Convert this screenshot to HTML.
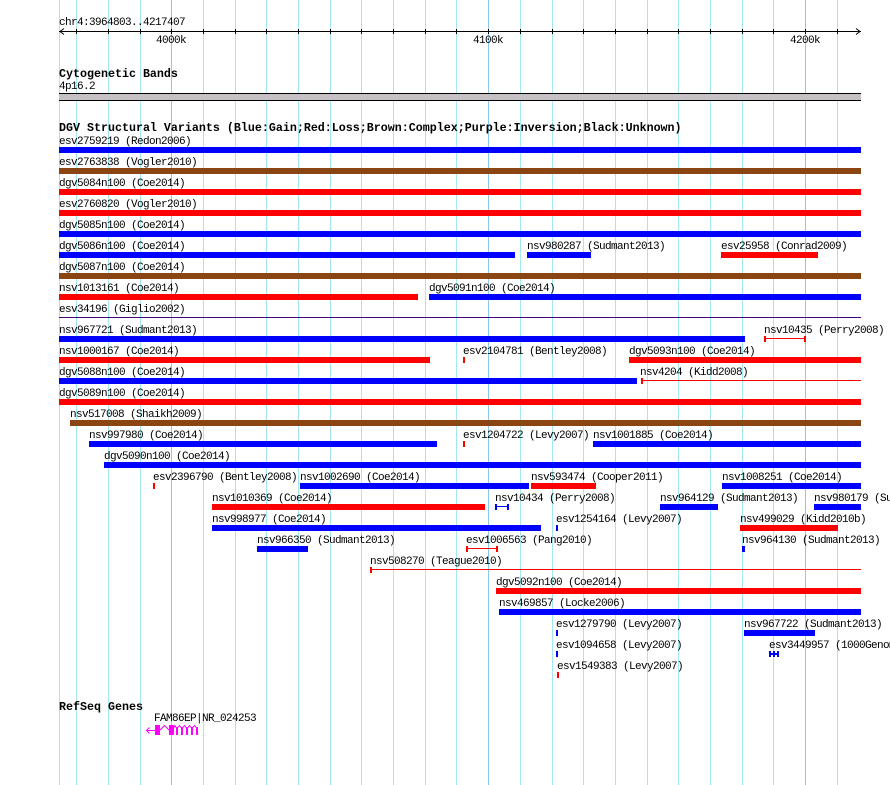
<!DOCTYPE html>
<html><head><meta charset="utf-8"><style>
html,body{margin:0;padding:0;background:#fff;}
svg{display:block;}
text{font-family:"Liberation Mono","DejaVu Sans Mono",monospace;font-size:11px;letter-spacing:-0.6px;fill:#000;}
text.b{font-weight:bold;font-size:11.67px;letter-spacing:0px;}
</style></head><body>
<svg width="890" height="785" viewBox="0 0 890 785" xmlns="http://www.w3.org/2000/svg" shape-rendering="crispEdges">
<!-- grid -->
<g fill="#a6e6f0">
<rect x="59" y="0" width="1" height="785"/>
<rect x="76" y="0" width="1" height="785"/><rect x="108" y="0" width="1" height="785"/><rect x="140" y="0" width="1" height="785"/>
<rect x="203" y="0" width="1" height="785"/><rect x="235" y="0" width="1" height="785"/><rect x="266" y="0" width="1" height="785"/>
<rect x="298" y="0" width="1" height="785"/><rect x="330" y="0" width="1" height="785"/><rect x="361" y="0" width="1" height="785"/>
<rect x="393" y="0" width="1" height="785"/><rect x="425" y="0" width="1" height="785"/><rect x="456" y="0" width="1" height="785"/>
<rect x="520" y="0" width="1" height="785"/><rect x="552" y="0" width="1" height="785"/><rect x="583" y="0" width="1" height="785"/>
<rect x="615" y="0" width="1" height="785"/><rect x="647" y="0" width="1" height="785"/><rect x="678" y="0" width="1" height="785"/>
<rect x="710" y="0" width="1" height="785"/><rect x="742" y="0" width="1" height="785"/><rect x="773" y="0" width="1" height="785"/>
<rect x="837" y="0" width="1" height="785"/>
</g>
<g fill="#8cc8ec">
<rect x="171" y="0" width="1" height="785"/><rect x="488" y="0" width="1" height="785"/><rect x="805" y="0" width="1" height="785"/>
</g>

<!-- ruler -->
<text x="59" y="25">chr4:3964803..4217407</text>
<rect x="59" y="31" width="802" height="1" fill="#000"/>
<path d="M60 31.5 L64 28.5 M60 31.5 L64 34.5 M860 31.5 L856 28.5 M860 31.5 L856 34.5" stroke="#000" stroke-width="1" fill="none" shape-rendering="auto"/>
<g fill="#000">
<rect x="76" y="29" width="1" height="5"/><rect x="108" y="29" width="1" height="5"/><rect x="140" y="29" width="1" height="5"/>
<rect x="171" y="29" width="1" height="5"/><rect x="203" y="29" width="1" height="5"/><rect x="235" y="29" width="1" height="5"/>
<rect x="266" y="29" width="1" height="5"/><rect x="298" y="29" width="1" height="5"/><rect x="330" y="29" width="1" height="5"/>
<rect x="361" y="29" width="1" height="5"/><rect x="393" y="29" width="1" height="5"/><rect x="425" y="29" width="1" height="5"/>
<rect x="456" y="29" width="1" height="5"/><rect x="488" y="29" width="1" height="5"/><rect x="520" y="29" width="1" height="5"/>
<rect x="552" y="29" width="1" height="5"/><rect x="583" y="29" width="1" height="5"/><rect x="615" y="29" width="1" height="5"/>
<rect x="647" y="29" width="1" height="5"/><rect x="678" y="29" width="1" height="5"/><rect x="710" y="29" width="1" height="5"/>
<rect x="742" y="29" width="1" height="5"/><rect x="773" y="29" width="1" height="5"/><rect x="805" y="29" width="1" height="5"/>
<rect x="837" y="29" width="1" height="5"/>
</g>
<text x="156" y="43">4000k</text>
<text x="473" y="43">4100k</text>
<text x="790" y="43">4200k</text>

<!-- cytoband -->
<text class="b" x="59" y="77">Cytogenetic Bands</text>
<text x="59" y="89">4p16.2</text>
<rect x="59" y="93" width="802" height="8" fill="#c4c0c4"/>
<rect x="59" y="93" width="802" height="1" fill="#000"/>
<rect x="59" y="100" width="802" height="1" fill="#000"/>

<!-- DGV -->
<text class="b" x="59" y="131">DGV Structural Variants (Blue:Gain;Red:Loss;Brown:Complex;Purple:Inversion;Black:Unknown)</text>

<!-- row 1 -->
<text x="59" y="144">esv2759219 (Redon2006)</text>
<rect x="59" y="147" width="802" height="6" fill="#0000ff"/>
<!-- row 2 -->
<text x="59" y="165">esv2763838 (Vogler2010)</text>
<rect x="59" y="168" width="802" height="6" fill="#8b4513"/>
<!-- row 3 -->
<text x="59" y="186">dgv5084n100 (Coe2014)</text>
<rect x="59" y="189" width="802" height="6" fill="#ff0000"/>
<!-- row 4 -->
<text x="59" y="207">esv2760820 (Vogler2010)</text>
<rect x="59" y="210" width="802" height="6" fill="#ff0000"/>
<!-- row 5 -->
<text x="59" y="228">dgv5085n100 (Coe2014)</text>
<rect x="59" y="231" width="802" height="6" fill="#0000ff"/>
<!-- row 6 -->
<text x="59" y="249">dgv5086n100 (Coe2014)</text>
<rect x="59" y="252" width="456" height="6" fill="#0000ff"/>
<text x="527" y="249">nsv980287 (Sudmant2013)</text>
<rect x="527" y="252" width="64" height="6" fill="#0000ff"/>
<text x="721" y="249">esv25958 (Conrad2009)</text>
<rect x="721" y="252" width="97" height="6" fill="#ff0000"/>
<!-- row 7 -->
<text x="59" y="270">dgv5087n100 (Coe2014)</text>
<rect x="59" y="273" width="802" height="6" fill="#8b4513"/>
<!-- row 8 -->
<text x="59" y="291">nsv1013161 (Coe2014)</text>
<rect x="59" y="294" width="359" height="6" fill="#ff0000"/>
<text x="429" y="291">dgv5091n100 (Coe2014)</text>
<rect x="429" y="294" width="432" height="6" fill="#0000ff"/>
<!-- row 9 -->
<text x="59" y="312">esv34196 (Giglio2002)</text>
<rect x="59" y="317" width="802" height="1" fill="#400080"/>
<!-- row 10 -->
<text x="59" y="333">nsv967721 (Sudmant2013)</text>
<rect x="59" y="336" width="686" height="6" fill="#0000ff"/>
<text x="764" y="333">nsv10435 (Perry2008)</text>
<rect x="764" y="338" width="42" height="1" fill="#ff0000"/>
<rect x="764" y="336" width="2" height="6" fill="#ff0000"/>
<rect x="804" y="336" width="2" height="6" fill="#ff0000"/>
<!-- row 11 -->
<text x="59" y="354">nsv1000167 (Coe2014)</text>
<rect x="59" y="357" width="371" height="6" fill="#ff0000"/>
<text x="463" y="354">esv2104781 (Bentley2008)</text>
<rect x="463" y="357" width="2" height="6" fill="#ff0000"/>
<text x="629" y="354">dgv5093n100 (Coe2014)</text>
<rect x="629" y="357" width="232" height="6" fill="#ff0000"/>
<!-- row 12 -->
<text x="59" y="375">dgv5088n100 (Coe2014)</text>
<rect x="59" y="378" width="578" height="6" fill="#0000ff"/>
<text x="640" y="375">nsv4204 (Kidd2008)</text>
<rect x="641" y="380" width="220" height="1" fill="#ff0000"/>
<rect x="641" y="378" width="2" height="6" fill="#ff0000"/>
<!-- row 13 -->
<text x="59" y="396">dgv5089n100 (Coe2014)</text>
<rect x="59" y="399" width="802" height="6" fill="#ff0000"/>
<!-- row 14 -->
<text x="70" y="417">nsv517008 (Shaikh2009)</text>
<rect x="70" y="420" width="791" height="6" fill="#8b4513"/>
<!-- row 15 -->
<text x="89" y="438">nsv997980 (Coe2014)</text>
<rect x="89" y="441" width="348" height="6" fill="#0000ff"/>
<text x="463" y="438">esv1204722 (Levy2007)</text>
<rect x="463" y="441" width="2" height="6" fill="#ff0000"/>
<text x="593" y="438">nsv1001885 (Coe2014)</text>
<rect x="593" y="441" width="268" height="6" fill="#0000ff"/>
<!-- row 16 -->
<text x="104" y="459">dgv5090n100 (Coe2014)</text>
<rect x="104" y="462" width="757" height="6" fill="#0000ff"/>
<!-- row 17 -->
<text x="153" y="480">esv2396790 (Bentley2008)</text>
<rect x="153" y="483" width="2" height="6" fill="#ff0000"/>
<text x="300" y="480">nsv1002690 (Coe2014)</text>
<rect x="300" y="483" width="229" height="6" fill="#0000ff"/>
<text x="531" y="480">nsv593474 (Cooper2011)</text>
<rect x="531" y="483" width="65" height="6" fill="#ff0000"/>
<text x="722" y="480">nsv1008251 (Coe2014)</text>
<rect x="722" y="483" width="139" height="6" fill="#0000ff"/>
<!-- row 18 -->
<text x="212" y="501">nsv1010369 (Coe2014)</text>
<rect x="212" y="504" width="273" height="6" fill="#ff0000"/>
<text x="495" y="501">nsv10434 (Perry2008)</text>
<rect x="495" y="506" width="14" height="1" fill="#0000ff"/>
<rect x="495" y="504" width="2" height="6" fill="#0000ff"/>
<rect x="507" y="504" width="2" height="6" fill="#0000ff"/>
<text x="660" y="501">nsv964129 (Sudmant2013)</text>
<rect x="660" y="504" width="58" height="6" fill="#0000ff"/>
<text x="814" y="501">nsv980179 (Sudmant2013)</text>
<rect x="814" y="504" width="47" height="6" fill="#0000ff"/>
<!-- row 19 -->
<text x="212" y="522">nsv998977 (Coe2014)</text>
<rect x="212" y="525" width="329" height="6" fill="#0000ff"/>
<text x="556" y="522">esv1254164 (Levy2007)</text>
<rect x="556" y="525" width="2" height="6" fill="#0000ff"/>
<text x="740" y="522">nsv499029 (Kidd2010b)</text>
<rect x="740" y="525" width="98" height="6" fill="#ff0000"/>
<!-- row 20 -->
<text x="257" y="543">nsv966350 (Sudmant2013)</text>
<rect x="257" y="546" width="51" height="6" fill="#0000ff"/>
<text x="466" y="543">esv1006563 (Pang2010)</text>
<rect x="466" y="548" width="32" height="1" fill="#ff0000"/>
<rect x="466" y="546" width="2" height="6" fill="#ff0000"/>
<rect x="496" y="546" width="2" height="6" fill="#ff0000"/>
<text x="742" y="543">nsv964130 (Sudmant2013)</text>
<rect x="742" y="546" width="3" height="6" fill="#0000ff"/>
<!-- row 21 -->
<text x="370" y="564">nsv508270 (Teague2010)</text>
<rect x="370" y="569" width="491" height="1" fill="#ff0000"/>
<rect x="370" y="567" width="2" height="6" fill="#ff0000"/>
<!-- row 22 -->
<text x="496" y="585">dgv5092n100 (Coe2014)</text>
<rect x="496" y="588" width="365" height="6" fill="#ff0000"/>
<!-- row 23 -->
<text x="499" y="606">nsv469857 (Locke2006)</text>
<rect x="499" y="609" width="362" height="6" fill="#0000ff"/>
<!-- row 24 -->
<text x="556" y="627">esv1279790 (Levy2007)</text>
<rect x="556" y="630" width="2" height="6" fill="#0000ff"/>
<text x="744" y="627">nsv967722 (Sudmant2013)</text>
<rect x="744" y="630" width="71" height="6" fill="#0000ff"/>
<!-- row 25 -->
<text x="556" y="648">esv1094658 (Levy2007)</text>
<rect x="556" y="651" width="2" height="6" fill="#0000ff"/>
<text x="769" y="648">esv3449957 (1000Genomes)</text>
<rect x="769" y="651" width="2" height="6" fill="#0000ff"/>
<rect x="773" y="651" width="2" height="6" fill="#0000ff"/>
<rect x="777" y="651" width="2" height="6" fill="#0000ff"/>
<rect x="769" y="653" width="10" height="2" fill="#0000ff"/>
<!-- row 26 -->
<text x="557" y="669">esv1549383 (Levy2007)</text>
<rect x="557" y="672" width="2" height="6" fill="#ff0000"/>

<!-- RefSeq -->
<text class="b" x="59" y="710">RefSeq Genes</text>
<text x="154" y="721">FAM86EP|NR_024253</text>
<g fill="#ff00ff">
<rect x="146" y="730" width="9" height="1"/>
<rect x="155" y="725" width="5" height="10"/>
<rect x="169" y="725" width="5" height="10"/>
<rect x="176" y="727" width="2" height="8"/>
<rect x="181" y="727" width="2" height="8"/>
<rect x="186" y="727" width="2" height="8"/>
<rect x="191" y="727" width="2" height="8"/>
<rect x="196" y="727" width="2" height="8"/>
</g>
<g stroke="#ff00ff" stroke-width="1" fill="none" shape-rendering="auto">
<path d="M146.5 730.5 L149.5 727.5 M146.5 730.5 L149.5 733.5"/>
<path d="M160 730 L164.5 725.5 L169 730"/>
<path d="M174 727.5 L175 725.5 L176 727.5 M178 727.5 L179.5 725.5 L181 727.5 M183 727.5 L184.5 725.5 L186 727.5 M188 727.5 L189.5 725.5 L191 727.5 M193 727.5 L194.5 725.5 L196 727.5"/>
</g>
</svg>
</body></html>
